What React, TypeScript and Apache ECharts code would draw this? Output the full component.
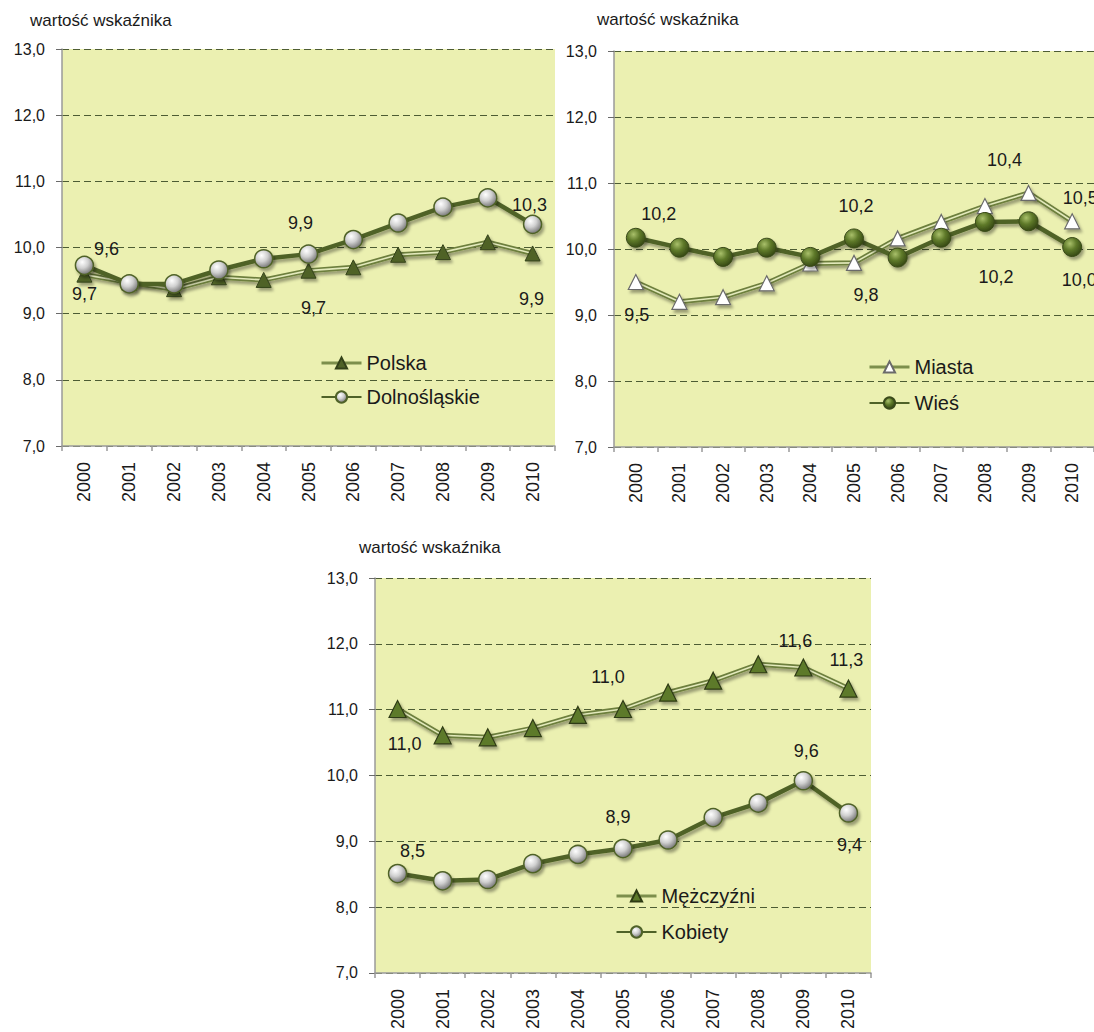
import React, { useEffect, useRef } from "react";
import * as echarts from "echarts";

const years = ["2000", "2001", "2002", "2003", "2004", "2005", "2006", "2007", "2008", "2009", "2010"];
const yTicks = [7, 8, 9, 10, 11, 12, 13];

const polska = [9.59, 9.47, 9.37, 9.55, 9.51, 9.65, 9.7, 9.89, 9.93, 10.08, 9.91];
const dolnoslaskie = [9.73, 9.45, 9.45, 9.66, 9.83, 9.9, 10.12, 10.37, 10.61, 10.75, 10.35];
const miasta = [9.5, 9.2, 9.27, 9.48, 9.78, 9.79, 10.16, 10.41, 10.65, 10.85, 10.42];
const wies = [10.17, 10.02, 9.88, 10.02, 9.88, 10.16, 9.87, 10.17, 10.41, 10.42, 10.03];
const mezczyzni = [11.01, 10.61, 10.58, 10.72, 10.92, 11.01, 11.26, 11.44, 11.69, 11.64, 11.32];
const kobiety = [8.51, 8.4, 8.42, 8.66, 8.8, 8.89, 9.02, 9.36, 9.58, 9.92, 9.43];

const polskaLabels = ["9,7", null, null, null, null, "9,7", null, null, null, null, "9,9"];
const dolnoslaskieLabels = ["9,6", null, null, null, null, "9,9", null, null, null, null, "10,3"];
const miastaLabels = ["9,5", null, null, null, null, "9,8", null, null, null, "10,4", "10,5"];
const wiesLabels = ["10,2", null, null, null, null, "10,2", null, null, "10,2", null, "10,0"];
const mezczyzniLabels = ["11,0", null, null, null, null, "11,0", null, null, null, "11,6", "11,3"];
const kobietyLabels = ["8,5", null, null, null, null, "8,9", null, null, null, "9,6", "9,4"];

const axisTitle = "wartość wskaźnika";

// label placement offsets (style only)
const labelOffsets: Record<string, Record<number, [number, number]>> = {
  Polska: { 0: [0, 19], 5: [5, 37], 10: [-1, 46] },
  "Dolnośląskie": { 0: [22, -16], 5: [-8, -31], 10: [-3, -19] },
  Miasta: { 0: [1, 33], 5: [12, 32], 9: [-24, -33], 10: [8, -23] },
  "Wieś": { 0: [23, -24], 5: [2, -32], 8: [11, 55], 10: [7, 33] },
  "Mężczyźni": { 0: [7, 35], 5: [-15, -32], 9: [-8, -27], 10: [-2, -29] },
  Kobiety: { 0: [15, -23], 5: [-5, -32], 9: [3, -30], 10: [1, 32] },
};

const FONT = "'Liberation Sans', Arial, sans-serif";
const OLIVE = "#4F6228";
const TEXT = "#1a1a1a";

const shadow = {
  shadowColor: "rgba(0,0,0,0.35)",
  shadowBlur: 3,
  shadowOffsetX: 2,
  shadowOffsetY: 3,
};

const silverBall = {
  type: "radial",
  x: 0.38,
  y: 0.32,
  r: 0.75,
  colorStops: [
    { offset: 0, color: "#ffffff" },
    { offset: 0.45, color: "#d0d0d0" },
    { offset: 1, color: "#6a6a6a" },
  ],
};
const greenBall = {
  type: "radial",
  x: 0.38,
  y: 0.32,
  r: 0.75,
  colorStops: [
    { offset: 0, color: "#a9c06a" },
    { offset: 0.45, color: "#5f7a2a" },
    { offset: 1, color: "#2f4010" },
  ],
};

function makeData(name: string, values: number[], labels: (string | null)[]) {
  const offs = labelOffsets[name] || {};
  return values.map((v, i) => {
    const t = labels[i];
    if (!t) return { value: v };
    return {
      value: v,
      label: {
        show: true,
        position: "inside",
        formatter: t,
        offset: offs[i] || [0, -20],
        fontSize: 18,
        fontFamily: FONT,
        color: TEXT,
      },
    };
  });
}

function doubleLine(name: string, values: number[], labels: (string | null)[], idx: number, symbolCfg: any) {
  return [
    {
      name: name + "_bg",
      type: "line",
      xAxisIndex: idx,
      yAxisIndex: idx,
      data: values,
      symbol: "none",
      silent: true,
      lineStyle: { color: "#6d7f3e", width: 5, ...shadow },
      z: 2,
    },
    {
      name,
      type: "line",
      xAxisIndex: idx,
      yAxisIndex: idx,
      data: makeData(name, values, labels),
      lineStyle: { color: "#e2e9bb", width: 1.6 },
      ...symbolCfg,
      z: 3,
    },
  ];
}

function thickLine(name: string, values: number[], labels: (string | null)[], idx: number, symbolCfg: any) {
  return {
    name,
    type: "line",
    xAxisIndex: idx,
    yAxisIndex: idx,
    data: makeData(name, values, labels),
    lineStyle: { color: OLIVE, width: 4.5, ...shadow },
    ...symbolCfg,
    z: 4,
  };
}

const grids = [
  { left: 62, top: 49, width: 493, height: 397 },
  { left: 614, top: 51, width: 493, height: 396 },
  { left: 375, top: 578, width: 496, height: 395 },
];

function buildOption() {
  const xAxis = grids.map((_, i) => ({
    type: "category",
    gridIndex: i,
    data: years,
    boundaryGap: true,
    axisLine: { lineStyle: { color: "#9a9a9a", width: 1.5 } },
    axisTick: { show: true, length: 5, lineStyle: { color: "#9a9a9a", width: 1.5 } },
    axisLabel: { rotate: 90, margin: 16, fontSize: 18, fontFamily: FONT, color: TEXT },
  }));
  const yAxis = grids.map((_, i) => ({
    type: "value",
    gridIndex: i,
    min: yTicks[0],
    max: yTicks[yTicks.length - 1],
    interval: 1,
    axisLine: { show: true, lineStyle: { color: "#9a9a9a", width: 1.5 } },
    axisTick: { show: true, length: 6, lineStyle: { color: "#6a6a6a" } },
    axisLabel: {
      margin: 17,
      fontSize: 16,
      fontFamily: FONT,
      color: TEXT,
      formatter: (v: number) => v.toFixed(1).replace(".", ","),
    },
    splitLine: { show: true, lineStyle: { color: "#4d5c33", type: [7, 4], width: 1 } },
  }));

  const triDark = {
    symbol: "triangle",
    symbolSize: 15,
    itemStyle: { color: OLIVE, borderColor: "#34421a", borderWidth: 1, ...shadow },
  };
  const triWhite = {
    symbol: "triangle",
    symbolSize: 15,
    itemStyle: { color: "#ffffff", borderColor: "#6a6a6a", borderWidth: 1.2, ...shadow },
  };
  const triMen = {
    symbol: "triangle",
    symbolSize: 17,
    itemStyle: { color: "#5d7a2b", borderColor: "#2e3a14", borderWidth: 1.2, ...shadow },
  };
  const silver = {
    symbol: "circle",
    symbolSize: 18,
    itemStyle: { color: silverBall, borderColor: OLIVE, borderWidth: 1.5, ...shadow },
  };
  const green = {
    symbol: "circle",
    symbolSize: 19,
    itemStyle: { color: greenBall, borderColor: "#3a4a1a", borderWidth: 1, ...shadow },
  };

  const series: any[] = [
    ...doubleLine("Polska", polska, polskaLabels, 0, triDark),
    thickLine("Dolnośląskie", dolnoslaskie, dolnoslaskieLabels, 0, silver),
    ...doubleLine("Miasta", miasta, miastaLabels, 1, triWhite),
    thickLine("Wieś", wies, wiesLabels, 1, green),
    ...doubleLine("Mężczyźni", mezczyzni, mezczyzniLabels, 2, triMen),
    thickLine("Kobiety", kobiety, kobietyLabels, 2, silver),
  ];

  const legendBase = {
    orient: "vertical",
    itemWidth: 40,
    itemHeight: 14,
    itemGap: 12,
    padding: 0,
    selectedMode: false,
    textStyle: { fontSize: 20, lineHeight: 22, fontFamily: FONT, color: TEXT },
  };
  const dblLegendLine = { color: "#7d8f4c", width: 3 };

  return {
    animation: false,
    backgroundColor: "#ffffff",
    title: [
      { text: axisTitle, left: 30, top: 12 },
      { text: axisTitle, left: 597, top: 11 },
      { text: axisTitle, left: 359, top: 539 },
    ].map((t) => ({
      ...t,
      textStyle: { fontSize: 17, fontWeight: "normal", fontFamily: FONT, color: TEXT },
      padding: 0,
    })),
    grid: grids.map((g) => ({
      ...g,
      show: true,
      backgroundColor: "#EBF0B1",
      borderWidth: 0,
    })),
    legend: [
      { ...legendBase, left: 320, top: 352, data: [{ name: "Polska", lineStyle: dblLegendLine }, "Dolnośląskie"] },
      { ...legendBase, left: 868, top: 356, itemGap: 14, data: [{ name: "Miasta", lineStyle: dblLegendLine }, "Wieś"] },
      { ...legendBase, left: 615, top: 885, itemGap: 14, data: [{ name: "Mężczyźni", lineStyle: dblLegendLine }, "Kobiety"] },
    ],
    xAxis,
    yAxis,
    series,
  };
}

export default function App() {
  const ref = useRef<HTMLDivElement>(null);
  useEffect(() => {
    if (!ref.current) return;
    const chart = echarts.init(ref.current, undefined, { renderer: "svg" });
    chart.setOption(buildOption() as any);
    return () => chart.dispose();
  }, []);
  return (
    <div
      ref={ref}
      style={{ position: "absolute", left: 0, top: 0, width: 1094, height: 1032, overflow: "hidden" }}
    />
  );
}
